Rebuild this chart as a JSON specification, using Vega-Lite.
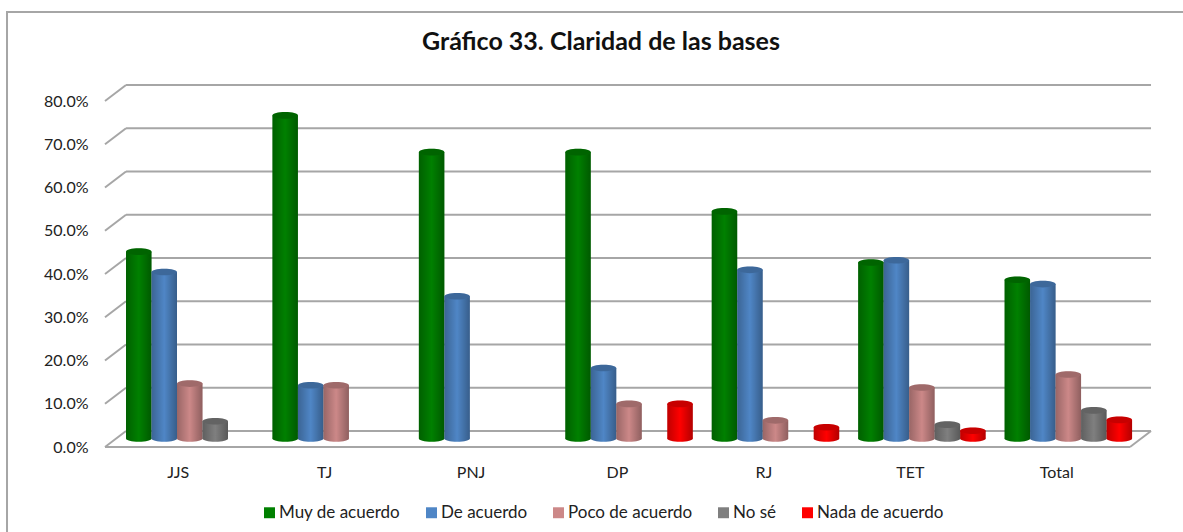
{"$schema":"https://vega.github.io/schema/vega-lite/v6.json","width":1025,"height":346,"autosize":{"type":"none"},"padding":{"left":105,"top":101,"right":53,"bottom":85},"background":"white","title":{"text":"Gráfico 33. Claridad de las bases","font":"Lato","fontSize":25,"fontWeight":"bold","color":"#111111","anchor":"start","offset":-44,"dx":416},"datasets":{"bars":[{"g":"JJS","s":"Muy de acuerdo","v":0.432},{"g":"JJS","s":"De acuerdo","v":0.385},{"g":"JJS","s":"Poco de acuerdo","v":0.127},{"g":"JJS","s":"No sé","v":0.04},{"g":"TJ","s":"Muy de acuerdo","v":0.747},{"g":"TJ","s":"De acuerdo","v":0.123},{"g":"TJ","s":"Poco de acuerdo","v":0.123},{"g":"PNJ","s":"Muy de acuerdo","v":0.662},{"g":"PNJ","s":"De acuerdo","v":0.329},{"g":"DP","s":"Muy de acuerdo","v":0.662},{"g":"DP","s":"De acuerdo","v":0.163},{"g":"DP","s":"Poco de acuerdo","v":0.08},{"g":"DP","s":"Nada de acuerdo","v":0.08},{"g":"RJ","s":"Muy de acuerdo","v":0.525},{"g":"RJ","s":"De acuerdo","v":0.39},{"g":"RJ","s":"Poco de acuerdo","v":0.042},{"g":"RJ","s":"Nada de acuerdo","v":0.026},{"g":"TET","s":"Muy de acuerdo","v":0.407},{"g":"TET","s":"De acuerdo","v":0.412},{"g":"TET","s":"Poco de acuerdo","v":0.118},{"g":"TET","s":"No sé","v":0.032},{"g":"TET","s":"Nada de acuerdo","v":0.018},{"g":"Total","s":"Muy de acuerdo","v":0.367},{"g":"Total","s":"De acuerdo","v":0.357},{"g":"Total","s":"Poco de acuerdo","v":0.148},{"g":"Total","s":"No sé","v":0.065},{"g":"Total","s":"Nada de acuerdo","v":0.043}],"walls":[{"a":0,"b":0.0205,"t":0,"u":0.037},{"a":0,"b":0.0205,"t":0.1,"u":0.137},{"a":0,"b":0.0205,"t":0.2,"u":0.237},{"a":0,"b":0.0205,"t":0.3,"u":0.337},{"a":0,"b":0.0205,"t":0.4,"u":0.437},{"a":0,"b":0.0205,"t":0.5,"u":0.537},{"a":0,"b":0.0205,"t":0.6,"u":0.637},{"a":0,"b":0.0205,"t":0.7,"u":0.737},{"a":0,"b":0.0205,"t":0.8,"u":0.837},{"a":0.0205,"b":1.0205,"t":0.037,"u":0.037},{"a":0.0205,"b":1.0205,"t":0.137,"u":0.137},{"a":0.0205,"b":1.0205,"t":0.237,"u":0.237},{"a":0.0205,"b":1.0205,"t":0.337,"u":0.337},{"a":0.0205,"b":1.0205,"t":0.437,"u":0.437},{"a":0.0205,"b":1.0205,"t":0.537,"u":0.537},{"a":0.0205,"b":1.0205,"t":0.637,"u":0.637},{"a":0.0205,"b":1.0205,"t":0.737,"u":0.737},{"a":0.0205,"b":1.0205,"t":0.837,"u":0.837},{"a":0,"b":1,"t":0,"u":0},{"a":1,"b":1.0205,"t":0,"u":0.037}],"frame":[{"a":-0.0956,"b":1.1,"t":-0.3,"u":1.006}]},"layer":[{"data":{"name":"frame"},"mark":{"type":"rect","fill":null,"stroke":"#a6a6a6","strokeWidth":2,"clip":false},"encoding":{"x":{"field":"a","type":"quantitative","scale":{"domain":[0,1],"nice":false,"zero":false},"axis":null},"x2":{"field":"b"},"y":{"field":"t","type":"quantitative","scale":{"domain":[0,0.8],"nice":false},"axis":{"values":[0,0.1,0.2,0.3,0.4,0.5,0.6,0.7,0.8],"format":".1%","title":null,"ticks":false,"domain":false,"grid":false,"labelFont":"Lato","labelFontSize":16,"labelColor":"#222222","labelPadding":17}},"y2":{"field":"u"}}},{"data":{"name":"walls"},"mark":{"type":"rule","stroke":"#a6a6a6","strokeWidth":2},"encoding":{"x":{"field":"a","type":"quantitative","scale":{"domain":[0,1],"nice":false,"zero":false},"axis":null},"x2":{"field":"b"},"y":{"field":"t","type":"quantitative"},"y2":{"field":"u"}}},{"data":{"name":"bars"},"transform":[{"calculate":"0","as":"base"}],"layer":[{"mark":{"type":"bar","yOffset":-8.5},"encoding":{"color":{"field":"s","type":"nominal","scale":{"domain":["Muy de acuerdo","De acuerdo","Poco de acuerdo","No sé","Nada de acuerdo"],"range":["#008000","#4f86c6","#cc8888","#7f7f7f","#ff0000"]},"legend":{"orient":"none","legendX":156,"legendY":403,"direction":"horizontal","columns":5,"title":null,"symbolType":"square","symbolSize":120,"labelFont":"Lato","labelFontSize":17,"labelColor":"#222222","labelOffset":1,"columnPadding":22,"symbolStrokeWidth":0}}}},{"mark":{"type":"bar","yOffset":-8.5,"fill":{"gradient":"linear","x1":0,"x2":1,"y1":0,"y2":0,"stops":[{"offset":0,"color":"rgba(0,0,0,0.25)"},{"offset":0.5,"color":"rgba(0,0,0,0)"},{"offset":1,"color":"rgba(0,0,0,0.3)"}]}}},{"mark":{"type":"point","filled":true,"strokeWidth":0,"opacity":1,"size":650,"shape":"M-1,0A1,0.26,0,1,1,1,0A1,0.26,0,1,1,-1,0Z","yOffset":-8.5},"encoding":{"y":{"field":"base","type":"quantitative"},"color":{"field":"s","type":"nominal","legend":null}}},{"mark":{"type":"point","filled":true,"strokeWidth":0,"opacity":1,"size":650,"shape":"M-1,0A1,0.26,0,1,1,1,0A1,0.26,0,1,1,-1,0Z","yOffset":-8.5,"fill":{"gradient":"linear","x1":0,"x2":1,"y1":0,"y2":0,"stops":[{"offset":0,"color":"rgba(0,0,0,0.25)"},{"offset":0.5,"color":"rgba(0,0,0,0)"},{"offset":1,"color":"rgba(0,0,0,0.3)"}]}},"encoding":{"y":{"field":"base","type":"quantitative"}}},{"mark":{"type":"point","filled":true,"strokeWidth":0,"opacity":1,"size":650,"shape":"M-1,0A1,0.26,0,1,1,1,0A1,0.26,0,1,1,-1,0Z","yOffset":-8.5},"encoding":{"color":{"field":"s","type":"nominal","legend":null}}},{"mark":{"type":"point","filled":true,"strokeWidth":0,"opacity":0.22,"size":650,"shape":"M-1,0A1,0.26,0,1,1,1,0A1,0.26,0,1,1,-1,0Z","yOffset":-8.5,"fill":"black"}}],"encoding":{"x":{"field":"g","type":"nominal","sort":["JJS","TJ","PNJ","DP","RJ","TET","Total"],"scale":{"paddingInner":0,"paddingOuter":0},"axis":{"title":null,"ticks":false,"domain":false,"grid":false,"labelAngle":0,"labelFont":"Lato","labelFontSize":16,"labelColor":"#222222","labelPadding":17}},"xOffset":{"field":"s","type":"nominal","sort":["Muy de acuerdo","De acuerdo","Poco de acuerdo","No sé","Nada de acuerdo"],"scale":{"domain":["Muy de acuerdo","De acuerdo","Poco de acuerdo","No sé","Nada de acuerdo"],"range":[21,148.5],"paddingInner":0,"paddingOuter":0}},"y":{"field":"v","type":"quantitative"}}}],"resolve":{"scale":{"x":"independent"}},"config":{"view":{"stroke":null}}}
